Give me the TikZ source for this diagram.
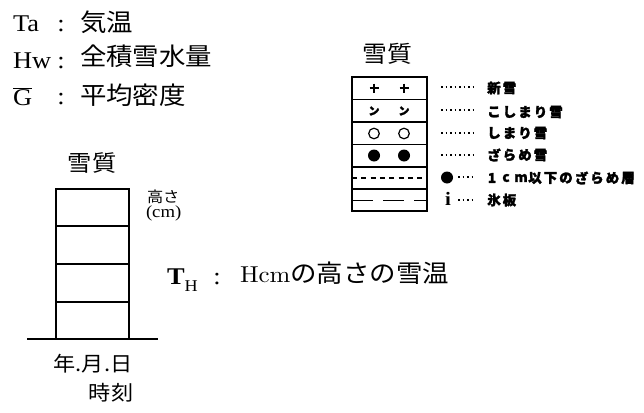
\documentclass[tikz,border=0pt]{standalone}
\usepackage{fontspec}
\setmainfont{Liberation Serif}[FakeStretch=1.1]
\newfontfamily\jp{Noto Sans CJK JP}[FakeStretch=1.08]
\newfontfamily\jpl{Noto Sans CJK JP}[BoldFeatures={FakeBold=2}]
\newfontfamily\lmr{lmroman10-regular}[Extension=.otf,FakeStretch=1.08]
\begin{document}
\begin{tikzpicture}[x=1pt,y=-1pt,
  every node/.style={inner sep=0pt,outer sep=0pt},
  lat/.style={font=\fontsize{24}{24}\selectfont},
  jpbig/.style={font=\jp\fontsize{24.5}{24.5}\selectfont},
  boxline/.style={line width=1.6pt},
  legline/.style={line width=1.5pt},
  leader/.style={line width=1.7pt,dash pattern=on 1.6pt off 2.9pt},
  lc/.style={font=\jpl\bfseries\fontsize{13.5}{13.5}\selectfont}]
\useasboundingbox (0,0) rectangle (644,412);

% ---- top-left definitions
\node[lat,anchor=base west] (ta) at (13,31) {Ta};
\node[lat,anchor=base] (c1) at (61,32) {:};
\node[jpbig,anchor=west] (t1) at (80,22.5) {気温};
\node[lat,anchor=base west] (hw) at (13,68) {Hw};
\node[lat,anchor=base] (c2) at (61,68) {:};
\node[jpbig,anchor=west] (t2) at (80,56) {全積雪水量};
\node[lat,anchor=base west] (gb) at (13,105) {$\overline{\mbox{G}}$};
\node[lat,anchor=base] (c3) at (61,104) {:};
\node[jpbig,anchor=west] (t3) at (80,95) {平均密度};

% ---- left snow column
\node[font=\jp\fontsize{22.5}{22.5}\selectfont] (sq1) at (92,163) {雪質};
\draw[boxline] (56,189) rectangle (129,339);
\draw[boxline] (56,226) -- (129,226) (56,264) -- (129,264) (56,302) -- (129,302);
\coordinate (g1) at (27,339);
\coordinate (g2) at (158,339);
\draw[boxline] (g1) -- (g2);
\node[font=\jp\fontsize{15}{15}\selectfont,anchor=west] (hs) at (147,197) {高さ};
\node[font=\fontsize{17}{17}\selectfont,anchor=west] (cm) at (146,213) {(cm)};
\node[font=\jp\fontsize{20.5}{20.5}\selectfont] (ymd) at (93,364) {年.月.日};
\node[font=\jp\fontsize{20.5}{20.5}\selectfont] (jk) at (111,393) {時刻};

% ---- T_H line
\node[lat,anchor=base west] (th) at (167,284) {\textbf{T}\raisebox{-7pt}{\fontsize{16.5}{16.5}\selectfont H}};
\node[lat,anchor=base] (c4) at (217,284) {:};
\node[anchor=base west] (hc) at (240,282) {{\lmr\fontsize{23}{23}\selectfont Hcm}{\jp\fontsize{24.5}{24.5}\selectfont の高さの雪温}};

% ---- right legend
\node[font=\jp\fontsize{23}{23}\selectfont] (sq2) at (387,54) {雪質};
\draw[legline] (352,77) rectangle (427,211);
\draw[legline] (352,99.5) -- (427,99.5) (352,122) -- (427,122) (352,144.5) -- (427,144.5)
  (352,167) -- (427,167) (352,189) -- (427,189);
% row 1 : plus
\foreach \xx in {374,404}{
  \draw[line width=1.5pt] (\xx-4.5,88) -- (\xx+4.5,88) (\xx,83.5) -- (\xx,92.5);
}
% row 2 : kosimari marks
\node[font=\jpl\bfseries\fontsize{11}{11}\selectfont] (k1) at (374,111) {ン};
\node[font=\jpl\bfseries\fontsize{11}{11}\selectfont] (k2) at (404,111) {ン};
% row 3 : circles
\draw[line width=1.2pt] (374,133.5) circle (5.3) (404,133.5) circle (5.3);
% row 4 : dots
\fill (374,155.5) circle (6) (404,155.5) circle (6);
% row 5 : short dashes
\draw[line width=1.3pt,dash pattern=on 5pt off 4.3pt] (352,178) -- (427,178);
% row 6 : long dashes
\draw[line width=1.3pt,dash pattern=on 21pt off 10pt] (352,200.5) -- (427,200.5);

% leaders
\foreach \yy [count=\i] in {87,110,133,155}{
  \coordinate (la\i) at (441,\yy);
  \coordinate (lb\i) at (473,\yy);
  \draw[leader] (la\i) -- (lb\i);
}
\fill (447,177.5) circle (6);
\node[font=\fontsize{19}{19}\selectfont\bfseries,anchor=base] (ice) at (448,205) {i};
\coordinate (la5) at (458,177);
\coordinate (lb5) at (473,177);
\coordinate (la6) at (458,200);
\coordinate (lb6) at (473,200);
\draw[leader] (la5) -- (lb5);
\draw[leader] (la6) -- (lb6);

% labels, one node per character
\foreach \ch [count=\k] in {新,雪}
  \node[lc] (na\k) at (494+15.5*\k-15.5,88) {\ch};
\foreach \ch [count=\k] in {こ,し,ま,り,雪}
  \node[lc] (nb\k) at (494+15.5*\k-15.5,112) {\ch};
\foreach \ch [count=\k] in {し,ま,り,雪}
  \node[lc] (nc\k) at (494+15.5*\k-15.5,133) {\ch};
\foreach \ch [count=\k] in {ざ,ら,め,雪}
  \node[lc] (nd\k) at (494+15.5*\k-15.5,155) {\ch};
\node[lc] (ne1) at (492,178) {1};
\node[lc] (ne2) at (506,178) {c};
\node[lc] (ne3) at (521,178) {m};
\foreach \ch [count=\k] in {以,下,の,ざ,ら,め,層}
  \node[lc] (nf\k) at (535+15.5*\k-15.5,178) {\ch};
\foreach \ch [count=\k] in {氷,板}
  \node[lc] (ng\k) at (494+15.5*\k-15.5,200) {\ch};
\end{tikzpicture}
\end{document}
